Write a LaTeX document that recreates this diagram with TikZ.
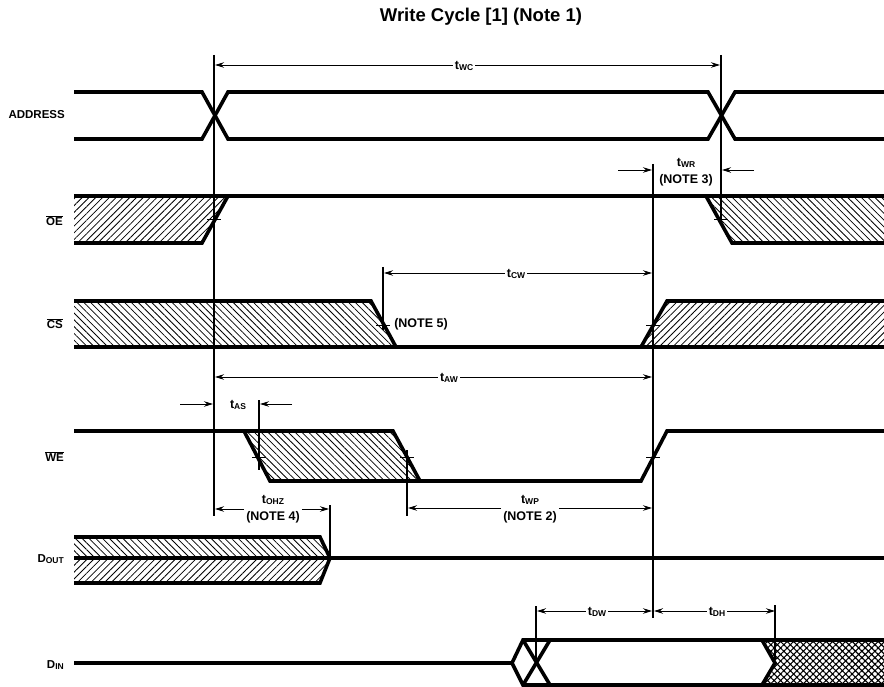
\documentclass[tikz,border=0pt]{standalone}
\usepackage{fontspec}
\setmainfont{Liberation Sans}
\usetikzlibrary{patterns.meta,arrows.meta}
\newcommand{\tsub}[2]{#1\raisebox{-1.5pt}{\fontsize{8.5}{9}\selectfont #2}}
\newcommand{\sigbar}[1]{$\overline{\mbox{#1}}$}

\begin{document}
\begin{tikzpicture}[x=1pt,y=-1pt]
    \tikzset{rail/.style={line width=3.6pt,line join=miter,line cap=butt},
        guide/.style={line width=1.3pt},
        dim/.style={line width=.9pt,-{Stealth[length=9pt,width=5.5pt]}},
        hatchup/.style={pattern={Lines[angle=45,distance=4.8pt,line width=.8pt]}},
        hatchdown/.style={pattern={Lines[angle=-45,distance=4.8pt,line width=.8pt]}},
        hatchboth/.style={pattern={Hatch[angle=45,distance=4.6pt,line width=1.1pt]}},
        signame/.style={font=\bfseries\fontsize{11.5}{12}\selectfont,anchor=east,inner sep=0pt},
        dimtext/.style={font=\bfseries\fontsize{12.5}{17}\selectfont,align=center,inner sep=2pt,fill=white}}
    \useasboundingbox (0,0) rectangle (884,687);

    % hatched parts first, rails go on top
    \path[hatchup] (74,196) -- (228,196) -- (202,243) -- (74,243) -- cycle;
    \path[hatchdown] (708,196) -- (884,196) -- (884,243) -- (733,243) -- cycle;
    \path[hatchdown] (74,301) -- (371,301) -- (396,347) -- (74,347) -- cycle;
    \path[hatchup] (667,301) -- (884,301) -- (884,347) -- (641,347) -- cycle;
    \path[hatchdown] (244,431) -- (393,431) -- (420,481) -- (270,481) -- cycle;
    \path[hatchdown] (74,537) -- (320,537) -- (330,558) -- (74,558) -- cycle;
    \path[hatchup] (74,558) -- (330,558) -- (320,583) -- (74,583) -- cycle;
    \path[hatchboth] (762,640) -- (884,640) -- (884,685) -- (762,685) -- (775,663) -- cycle;

    % signals
    \draw[rail] (74,92) -- (202,92) -- (228,139) -- (708,139) -- (735,92) -- (884,92);
    \draw[rail] (74,139) -- (202,139) -- (228,92) -- (708,92) -- (735,139) -- (884,139);
    \draw[rail] (74,196) -- (884,196);
    \draw[rail] (74,243) -- (202,243) -- (228,196);
    \draw[rail] (706,196) -- (732,243) -- (884,243);
    \draw[rail] (74,301) -- (371,301) -- (396,347) -- (74,347);
    \draw[rail] (396,347) -- (641,347) -- (667,301) -- (884,301);
    \draw[rail] (641,347) -- (884,347);
    \draw[rail] (74,431) -- (393,431) -- (420,481) -- (270,481) -- (244,431);
    \draw[rail] (420,481) -- (641,481) -- (667,431) -- (884,431);
    \draw[rail] (74,537) -- (320,537) -- (330,558) -- (320,583) -- (74,583);
    \draw[rail] (74,558) -- (884,558);
    \draw[rail] (74,663) -- (512,663) -- (523,640) -- (884,640);
    \draw[rail] (512,663) -- (523,685) -- (884,685);
    \draw[rail] (523,640) -- (550,685);
    \draw[rail] (523,685) -- (550,640);
    \draw[rail] (762,640) -- (775,663) -- (762,685);

    % guide lines
    \coordinate (a1) at (214,55);
    \coordinate (a2) at (214,516);
    \coordinate (b1) at (721,55);
    \coordinate (b2) at (721,224);
    \coordinate (c1) at (653,164);
    \coordinate (c2) at (653,618);
    \coordinate (d1) at (383,267);
    \coordinate (d2) at (383,330);
    \coordinate (e1) at (259,400);
    \coordinate (e2) at (259,470);
    \coordinate (f1) at (407,450);
    \coordinate (f2) at (407,516);
    \coordinate (g1) at (330,505);
    \coordinate (g2) at (330,558);
    \coordinate (h1) at (536,606);
    \coordinate (h2) at (536,663);
    \coordinate (i1) at (775,605);
    \coordinate (i2) at (775,660);
    \foreach \p in {a,b,c,d,e,f,g,h,i}
        \draw[guide] (\p1) -- (\p2);

    % little ticks on the edges
    \foreach \tx/\ty in {214/220,721/220,383/325,653/325,259/457,407/457,653/457}
        \draw[line width=1pt] (\tx-7,\ty) -- (\tx+7,\ty);

    % names of the signals
    \node[signame] (address) at (65,115) {ADDRESS};
    \node[signame] (oe) at (63,221) {\sigbar{OE}};
    \node[signame] (cs) at (63,324) {\sigbar{CS}};
    \node[signame] (we) at (64,457) {\sigbar{WE}};
    \node[signame] (dout) at (64,559) {\tsub{D}{OUT}};
    \node[signame] (din) at (64,665) {\tsub{D}{IN}};

    % timing labels
    \node[font=\bfseries\fontsize{18.5}{20}\selectfont,inner sep=0pt] (title) at (481,17) {Write Cycle [1] (Note 1)};
    \node[dimtext] (twc) at (464,66) {\tsub{t}{WC}};
    \node[dimtext] (tcw) at (516,274) {\tsub{t}{CW}};
    \node[dimtext] (taw) at (449,378) {\tsub{t}{AW}};
    \node[dimtext] (twr) at (686,172) {\tsub{t}{WR}\\(NOTE 3)};
    \node[dimtext] (tas) at (238,405) {\tsub{t}{AS}};
    \node[dimtext] (tohz) at (273,509) {\tsub{t}{OHZ}\\(NOTE 4)};
    \node[dimtext] (twp) at (530,509) {\tsub{t}{WP}\\(NOTE 2)};
    \node[dimtext] (tdw) at (597,612) {\tsub{t}{DW}};
    \node[dimtext] (tdh) at (717,612) {\tsub{t}{DH}};
    \node[dimtext,inner sep=0pt] (note5) at (421,324) {(NOTE 5)};

    % arrow ends
    \coordinate (twcL) at (215,65);
    \coordinate (twcR) at (720,65);
    \coordinate (tcwL) at (384,273);
    \coordinate (tcwR) at (652,273);
    \coordinate (tawL) at (215,377);
    \coordinate (tawR) at (652,377);
    \coordinate (twrL) at (618,170);
    \coordinate (twrA) at (652,170);
    \coordinate (twrR) at (754,170);
    \coordinate (twrB) at (722,170);
    \coordinate (tasL) at (180,404);
    \coordinate (tasA) at (213,404);
    \coordinate (tasR) at (292,404);
    \coordinate (tasB) at (260,404);
    \coordinate (tohzL) at (215,509);
    \coordinate (tohzR) at (329,509);
    \coordinate (twpL) at (408,508);
    \coordinate (twpR) at (652,508);
    \coordinate (tdwL) at (537,611);
    \coordinate (tdwR) at (652,611);
    \coordinate (tdhL) at (654,611);
    \coordinate (tdhR) at (775,611);

    \foreach \n in {twc,tcw,taw,tohz,twp,tdw,tdh}
        \draw[dim] (\n.west |- \n L) -- (\n L);
    \foreach \n in {twc,tcw,taw,tohz,twp,tdw,tdh}
        \draw[dim] (\n.east |- \n R) -- (\n R);
    \draw[dim] (twrL) -- (twrA);
    \draw[dim] (twrR) -- (twrB);
    \draw[dim] (tasL) -- (tasA);
    \draw[dim] (tasR) -- (tasB);
\end{tikzpicture}
\end{document}
